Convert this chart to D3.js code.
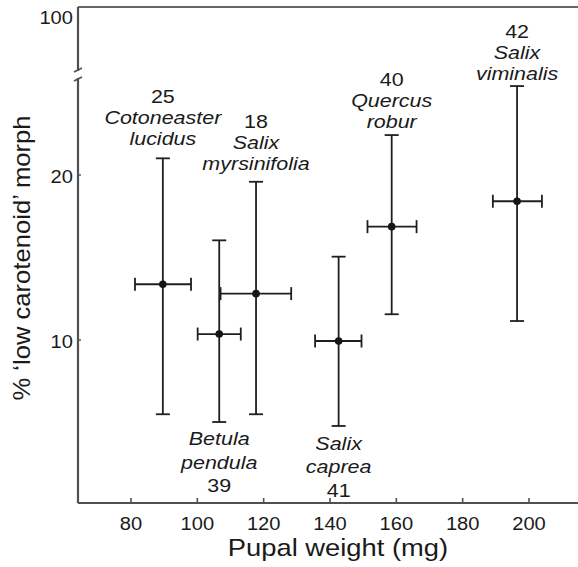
<!DOCTYPE html>
<html>
<head>
<meta charset="utf-8">
<script src="https://cdn.jsdelivr.net/npm/d3@7"></script>
<style>
  html, body { margin: 0; padding: 0; background: #fff; }
  svg { display: block; }
  text { font-family: "Liberation Sans", Arial, Helvetica, sans-serif; fill: #1a1a1a; }
</style>
</head>
<body>
<svg id="chart" width="578" height="567"></svg>
<script>
// ---- data ----
const genus    = ["Cotoneaster", "Betula", "Salix", "Salix", "Quercus", "Salix"];
const epithet  = ["lucidus", "pendula", "myrsinifolia", "caprea", "robur", "viminalis"];
const nSample  = [25, 39, 18, 41, 40, 42];
const labelPos = ["top", "bottom", "top", "bottom", "top", "top"];
const weight   = [89.6, 106.6, 117.7, 142.6, 158.6, 196.4];
const weightLo = [81.2, 100.1, 107.0, 135.5, 151.3, 189.1];
const weightHi = [98.1, 113.1, 128.3, 149.5, 166.1, 203.9];
const pct      = [13.38, 10.36, 12.81, 9.94, 16.87, 18.41];
const pctLo    = [5.50, 5.03, 5.50, 4.79, 11.56, 11.15];
const pctHi    = [21.01, 16.04, 19.59, 15.05, 22.42, 25.39];
const xTicks   = [80, 100, 120, 140, 160, 180, 200];
const yTicksLow = [10, 20];
const yTicksHigh = [100];

// ---- layout ----
const svg = d3.select("#chart");
const axisX = 78, rightX = 578, bottomY = 503, topY = 7;
const breakLowY = 79, breakHighY = 70;
const labelGap = [13, 23, 12, 24, 7, 6];

const x = d3.scaleLinear().domain([80, 200]).range([131, 529]);
const y = d3.scaleLinear().domain([10, 20]).range([340, 175]);
const yHigh = d3.scaleLinear().domain([95, 100.85]).range([breakHighY, topY]);

const axisColor = "#505050";
const barColor = "#1f1f1f";

function stext(parent, tx, ty, str, size, sx, anchor, italic, rot) {
  const g = parent.append("g")
    .attr("transform", `translate(${tx},${ty})` + (rot ? ` rotate(${rot})` : "") + ` scale(${sx},1)`);
  g.append("text")
    .attr("text-anchor", anchor)
    .attr("font-size", size)
    .attr("font-style", italic ? "italic" : "normal")
    .text(str);
  return g;
}

// axes frame
svg.append("line").attr("x1", axisX).attr("x2", rightX).attr("y1", topY).attr("y2", topY)
  .attr("stroke", "#333").attr("stroke-width", 1.6);
svg.append("line").attr("x1", axisX).attr("x2", rightX).attr("y1", bottomY).attr("y2", bottomY)
  .attr("stroke", axisColor).attr("stroke-width", 2.2);
svg.append("line").attr("x1", axisX).attr("x2", axisX).attr("y1", topY).attr("y2", breakHighY + 1)
  .attr("stroke", axisColor).attr("stroke-width", 2.2);
svg.append("line").attr("x1", axisX).attr("x2", axisX).attr("y1", breakLowY - 1).attr("y2", bottomY)
  .attr("stroke", axisColor).attr("stroke-width", 2.2);
// break marks
[breakHighY, breakLowY].forEach(by => {
  svg.append("line").attr("x1", axisX - 4).attr("x2", axisX + 4)
    .attr("y1", by + 2).attr("y2", by - 2)
    .attr("stroke", axisColor).attr("stroke-width", 1.6);
});

// x ticks
const xg = svg.append("g");
xTicks.forEach(t => {
  xg.append("line").attr("x1", x(t)).attr("x2", x(t)).attr("y1", bottomY).attr("y2", bottomY - 5)
    .attr("stroke", axisColor).attr("stroke-width", 1.6);
  stext(xg, x(t), 530, String(t), 19, 1.06, "middle", false);
});
// y ticks
yTicksLow.forEach(t => {
  svg.append("line").attr("x1", axisX).attr("x2", axisX + 3).attr("y1", y(t)).attr("y2", y(t))
    .attr("stroke", axisColor).attr("stroke-width", 1.4);
  stext(svg, 73, y(t) + 7.5, String(t), 19, 1.06, "end", false);
});
yTicksHigh.forEach(t => {
  stext(svg, 73, yHigh(t) + 7.5, String(t), 19, 1.06, "end", false);
});

// titles
stext(svg, 338, 556, "Pupal weight (mg)", 24, 1.14, "middle", false);
stext(svg, 30, 258, "% \u2018low carotenoid\u2019 morph", 23.5, 1.09, "middle", false, -90);

// error bars
const capV = 7, capH = 6.5;
const bars = svg.append("g").attr("stroke", barColor).attr("stroke-width", 1.8);
weight.forEach((w, i) => {
  const cx = x(w), cy = y(pct[i]);
  bars.append("line").attr("x1", cx).attr("x2", cx).attr("y1", y(pctLo[i])).attr("y2", y(pctHi[i]));
  bars.append("line").attr("x1", cx - capV).attr("x2", cx + capV).attr("y1", y(pctLo[i])).attr("y2", y(pctLo[i]));
  bars.append("line").attr("x1", cx - capV).attr("x2", cx + capV).attr("y1", y(pctHi[i])).attr("y2", y(pctHi[i]));
  bars.append("line").attr("x1", x(weightLo[i])).attr("x2", x(weightHi[i])).attr("y1", cy).attr("y2", cy);
  bars.append("line").attr("x1", x(weightLo[i])).attr("x2", x(weightLo[i])).attr("y1", cy - capH).attr("y2", cy + capH);
  bars.append("line").attr("x1", x(weightHi[i])).attr("x2", x(weightHi[i])).attr("y1", cy - capH).attr("y2", cy + capH);
});
svg.append("g").selectAll("circle").data(weight).join("circle")
  .attr("cx", d => x(d)).attr("cy", (d, i) => y(pct[i])).attr("r", 3.8).attr("fill", "#151515");

// labels
weight.forEach((w, i) => {
  const cx = x(w);
  if (labelPos[i] === "top") {
    const base = y(pctHi[i]) - labelGap[i];
    const lh = 21;
    stext(svg, cx, base - 2 * lh, String(nSample[i]), 19, 1.13, "middle", false);
    stext(svg, cx, base - lh, genus[i], 19, 1.13, "middle", true);
    stext(svg, cx, base, epithet[i], 19, 1.13, "middle", true);
  } else {
    const base = y(pctLo[i]) + labelGap[i];
    const lh = 23.5;
    stext(svg, cx, base, genus[i], 19, 1.13, "middle", true);
    stext(svg, cx, base + lh, epithet[i], 19, 1.13, "middle", true);
    stext(svg, cx, base + 2 * lh, String(nSample[i]), 19, 1.13, "middle", false);
  }
});
</script>
</body>
</html>
